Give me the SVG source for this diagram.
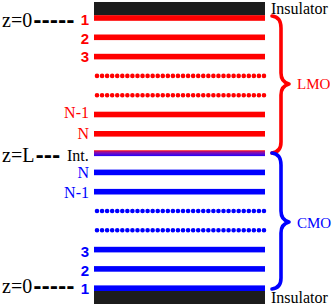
<svg xmlns="http://www.w3.org/2000/svg" width="332" height="305" viewBox="0 0 332 305">
<defs>
<linearGradient id="intg" x1="0" y1="0" x2="0" y2="1">
<stop offset="0" stop-color="#ff0000"/>
<stop offset="0.3" stop-color="#9a10a0"/>
<stop offset="1" stop-color="#2000ff"/>
</linearGradient>
<style>
.ins{fill:#1c1c1c}
.r{fill:#ff0000}
.b{fill:#0000ff}
.dr{stroke:#ff0000;stroke-width:4.6;stroke-linecap:round;stroke-dasharray:0 5.06;fill:none}
.db{stroke:#0000ff;stroke-width:4.6;stroke-linecap:round;stroke-dasharray:0 5.06;fill:none}
.num{font-family:"Liberation Sans",Arial,sans-serif;font-weight:bold;font-size:15px;text-anchor:end}
.nl{font-family:"Liberation Serif","Times New Roman",serif;font-size:16px;text-anchor:end}
.lbl{font-family:"Liberation Serif","Times New Roman",serif;font-size:16px}
.z{font-family:"Liberation Serif","Times New Roman",serif;font-size:20px;fill:#000}
.dash{font-family:"DejaVu Sans",sans-serif;font-weight:bold}
.brace{fill:none;stroke-width:3.6;stroke-linecap:round;stroke-linejoin:round}
</style>
</defs>

<g id="insulator-top">
<rect class="ins" x="94" y="2" width="171" height="13.4"/>
<text class="lbl" x="271" y="13.5" fill="#000">Insulator</text>
</g>
<g id="insulator-bottom">
<rect class="ins" x="94" y="291" width="171" height="13"/>
<text class="lbl" x="271" y="302.5" fill="#000">Insulator</text>
</g>

<g id="lmo-layers">
<g id="lmo-1"><rect class="r" x="94" y="15.2" width="171" height="5.6"/><text class="num" x="89" y="24.5" fill="#ff0000">1</text></g>
<g id="lmo-2"><rect class="r" x="94" y="34.5" width="171" height="5.6"/><text class="num" x="89" y="43.5" fill="#ff0000">2</text></g>
<g id="lmo-3"><rect class="r" x="94" y="53.8" width="171" height="5.6"/><text class="num" x="89" y="62.3" fill="#ff0000">3</text></g>
<g id="lmo-dots"><line class="dr" x1="97" y1="75.9" x2="264" y2="75.9"/><line class="dr" x1="97" y1="95.2" x2="264" y2="95.2"/></g>
<g id="lmo-N-1"><rect class="r" x="94" y="111.7" width="171" height="5.6"/><text class="nl" x="89" y="117.5" fill="#ff0000">N-1</text></g>
<g id="lmo-N"><rect class="r" x="94" y="131" width="171" height="5.6"/><text class="nl" x="89" y="138.5" fill="#ff0000">N</text></g>
</g>

<g id="interface">
<rect x="94" y="150.3" width="171" height="5.8" fill="url(#intg)"/>
<text class="lbl" x="67" y="161" fill="#000">Int.</text>
</g>

<g id="cmo-layers">
<g id="cmo-N"><rect class="b" x="94" y="169.6" width="171" height="5.6"/><text class="nl" x="89" y="178" fill="#0000ff">N</text></g>
<g id="cmo-N-1"><rect class="b" x="94" y="188.9" width="171" height="5.6"/><text class="nl" x="89" y="197.5" fill="#0000ff">N-1</text></g>
<g id="cmo-dots"><line class="db" x1="97" y1="211" x2="264" y2="211"/><line class="db" x1="97" y1="230.3" x2="264" y2="230.3"/></g>
<g id="cmo-3"><rect class="b" x="94" y="246.8" width="171" height="5.6"/><text class="num" x="89" y="257" fill="#0000ff">3</text></g>
<g id="cmo-2"><rect class="b" x="94" y="266.1" width="171" height="5.6"/><text class="num" x="89" y="275.5" fill="#0000ff">2</text></g>
<g id="cmo-1"><rect class="b" x="94" y="285.4" width="171" height="5.6"/><text class="num" x="89" y="293.5" fill="#0000ff">1</text></g>
</g>

<g id="z-labels">
<text class="z" x="2" y="26.5">z=0<tspan class="dash" dx="1">-----</tspan></text>
<text class="z" x="2" y="162">z=L<tspan class="dash" dx="1">---</tspan></text>
<text class="z" x="2" y="293">z=0<tspan class="dash" dx="1">-----</tspan></text>
</g>

<g id="braces">
<g id="lmo-brace">
<path class="brace" stroke="#ff0000" d="M272,16 Q281,17 281,28 L281,73 Q281,82 289,84 Q281,86 281,95 L281,142 Q281,152 272,153"/>
<text x="297" y="89" font-family="Liberation Serif, Times New Roman, serif" font-size="15" fill="#ff0000">LMO</text>
</g>
<g id="cmo-brace">
<path class="brace" stroke="#0000ff" d="M272,153 Q281,154 281,165 L281,211 Q281,220 289,222 Q281,224 281,233 L281,278 Q281,288 272,289"/>
<text x="297" y="228" font-family="Liberation Serif, Times New Roman, serif" font-size="15" fill="#0000ff">CMO</text>
</g>
</g>
</svg>
